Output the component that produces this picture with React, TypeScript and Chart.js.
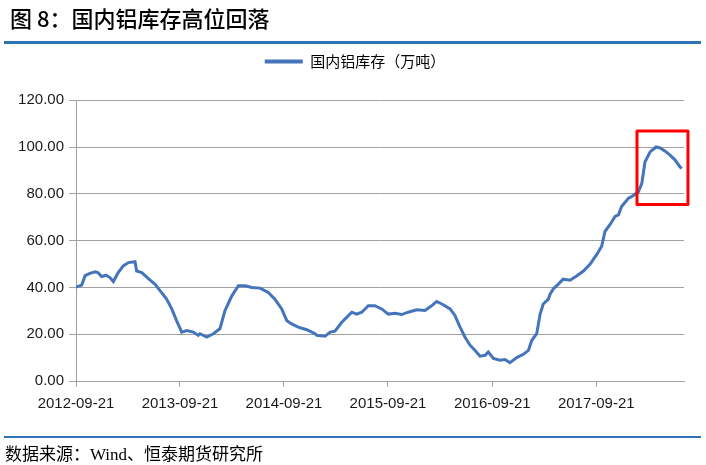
import React, { useEffect, useRef } from 'react';
import { Chart, registerables } from 'chart.js';

Chart.register(...registerables);

const TITLE = '图 8：国内铝库存高位回落';
const SOURCE = '数据来源：Wind、恒泰期货研究所';
const SERIES_NAME = '国内铝库存（万吨）';

// days since 2012-09-21
const dayOffsets = [
  0, 20, 32, 49, 67, 77, 90, 105, 119, 131, 148, 166, 184, 207, 213, 231, 260, 277, 295, 318,
  336, 353, 371, 389, 412, 429, 435, 459, 482, 505, 523, 547, 570, 593, 617, 646, 675, 698, 722, 740,
  757, 780, 810, 839, 845, 874, 892, 909, 933, 950, 968, 985, 1003, 1026, 1049, 1073, 1096, 1120, 1143, 1166,
  1196, 1225, 1249, 1266, 1289, 1313, 1330, 1348, 1365, 1383, 1400, 1418, 1436, 1447, 1465, 1488, 1506, 1523, 1547, 1570,
  1588, 1600, 1617, 1629, 1640, 1658, 1664, 1675, 1693, 1710, 1734, 1757, 1781, 1804, 1828, 1845, 1857, 1874, 1892, 1904,
  1915, 1939, 1950, 1974, 1986, 1997, 2015, 2036, 2050, 2068, 2085, 2103, 2120, 2126,
];

// 国内铝库存（万吨）
const inventory = [
  40.1, 41.0, 45.0, 46.0, 46.7, 46.3, 44.6, 45.2, 44.2, 42.5, 46.3, 49.2, 50.6, 51.0, 47.0, 46.3, 43.1, 41.4, 38.6, 35.0,
  30.8, 25.8, 20.9, 21.6, 20.9, 19.5, 20.2, 18.8, 20.2, 22.3, 30.1, 36.4, 40.7, 40.7, 40.0, 39.7, 37.8, 35.0, 30.8, 25.8,
  24.4, 23.0, 21.9, 20.2, 19.5, 19.1, 20.9, 21.3, 25.1, 27.2, 29.4, 28.6, 29.4, 32.2, 32.2, 30.8, 28.6, 28.9, 28.4, 29.4,
  30.4, 30.1, 32.2, 34.0, 32.6, 30.8, 28.0, 23.0, 18.8, 15.3, 13.1, 10.6, 11.0, 12.4, 9.6, 8.9, 9.2, 7.8, 10.0, 11.4,
  13.1, 17.4, 20.2, 28.6, 32.9, 35.0, 37.1, 39.3, 41.4, 43.5, 43.1, 44.9, 47.0, 49.9, 54.1, 57.6, 64.0, 66.8, 70.3, 71.0,
  74.6, 78.1, 78.8, 80.9, 84.5, 93.6, 97.9, 100.0, 99.6, 98.2, 96.5, 94.4, 91.5, 90.8,
];

const tickDays = [0, 365, 730, 1095, 1461, 1826];
const tickLabels = ['2012-09-21', '2013-09-21', '2014-09-21', '2015-09-21', '2016-09-21', '2017-09-21'];
const X_MAX_DAY = 2134;
const Y_MIN = 0;
const Y_MAX = 120;
const Y_STEP = 20;

// highlighted region (days, value)
const highlightDays = [1969, 2148];
const highlightValues = [75.4, 106.8];

const LINE_COLOR = '#4475BA';
const RULE_COLOR = '#2E73B6';

const highlightPlugin = {
  id: 'highlightBox',
  afterDraw(chart: any) {
    const { ctx, scales } = chart;
    const x = scales.x;
    const y = scales.y;
    const l = x.getPixelForValue(highlightDays[0]);
    const r = x.getPixelForValue(highlightDays[1]);
    const t = y.getPixelForValue(highlightValues[1]);
    const b = y.getPixelForValue(highlightValues[0]);
    ctx.save();
    ctx.strokeStyle = '#FF0000';
    ctx.lineWidth = 3;
    ctx.lineJoin = 'round';
    ctx.strokeRect(l, t, r - l, b - t);
    ctx.restore();
  },
};

const legendShiftPlugin = {
  id: 'legendShift',
  afterLayout(chart: any) {
    const lg = chart.legend;
    if (lg) {
      lg.left += 13;
      lg.right += 13;
    }
  },
};

export default function App() {
  const ref = useRef<HTMLCanvasElement | null>(null);

  useEffect(() => {
    if (!ref.current) return;
    const points = dayOffsets.map((d, i) => ({ x: d, y: inventory[i] }));
    const chart = new Chart(ref.current, {
      type: 'line',
      data: {
        datasets: [
          {
            label: SERIES_NAME,
            data: points,
            borderColor: LINE_COLOR,
            backgroundColor: LINE_COLOR,
            borderWidth: 3,
            pointRadius: 0,
            tension: 0,
          },
        ],
      },
      options: {
        responsive: false,
        animation: false,
        devicePixelRatio: 1,
        layout: { padding: { top: 34, right: 22, bottom: 0, left: 0 } },
        plugins: {
          tooltip: { enabled: false },
          // empty spacer between legend and plot area
          title: {
            display: true,
            text: ' ',
            position: 'top',
            weight: 500,
            font: { size: 1 },
            padding: { top: 10, bottom: 10 },
          },
          legend: {
            display: true,
            position: 'top',
            labels: {
              boxWidth: 38,
              boxHeight: 4,
              padding: 20,
              color: '#222',
              font: { family: '"Noto Sans CJK SC", sans-serif', size: 15 },
              generateLabels: () => [
                {
                  text: SERIES_NAME,
                  fillStyle: LINE_COLOR,
                  strokeStyle: LINE_COLOR,
                  lineWidth: 0,
                  hidden: false,
                  datasetIndex: 0,
                },
              ],
            },
          },
        },
        scales: {
          x: {
            type: 'linear',
            min: 0,
            max: X_MAX_DAY,
            afterBuildTicks: (scale: any) => {
              scale.ticks = tickDays.map((v) => ({ value: v }));
            },
            afterFit: (scale: any) => {
              scale.height = 84;
            },
            ticks: {
              autoSkip: false,
              maxRotation: 0,
              padding: 8,
              color: '#1a1a1a',
              font: { family: '"Liberation Sans", Arial, sans-serif', size: 15 },
              callback: (_v: any, i: number) => tickLabels[i],
            },
            grid: {
              drawOnChartArea: false,
              drawTicks: true,
              tickLength: 6,
              color: '#A0A0A0',
            },
            border: { display: true, color: '#A0A0A0', width: 1 },
          },
          y: {
            min: Y_MIN,
            max: Y_MAX,
            afterFit: (scale: any) => {
              scale.width = 76;
            },
            ticks: {
              stepSize: Y_STEP,
              padding: 5,
              color: '#1a1a1a',
              font: { family: '"Liberation Sans", Arial, sans-serif', size: 15 },
              callback: (v: any) => Number(v).toFixed(2),
            },
            grid: {
              color: '#A0A0A0',
              lineWidth: 1,
              drawTicks: true,
              tickLength: 7,
            },
            border: { display: true, color: '#A0A0A0', width: 1 },
          },
        },
      },
      plugins: [highlightPlugin, legendShiftPlugin],
    });
    return () => chart.destroy();
  }, []);

  return (
    <div
      style={{
        position: 'fixed',
        left: 0,
        top: 0,
        width: 706,
        height: 465,
        background: '#fff',
        overflow: 'hidden',
      }}
    >
      <canvas ref={ref} width={706} height={465} style={{ position: 'absolute', left: 0, top: 0 }} />
      <div
        style={{
          position: 'absolute',
          left: 10,
          top: 2,
          fontFamily: '"Noto Sans CJK SC", sans-serif',
          fontSize: 22,
          fontWeight: 500,
          lineHeight: '30px',
          color: '#000',
          whiteSpace: 'nowrap',
        }}
      >
        {TITLE}
      </div>
      <div style={{ position: 'absolute', left: 4, top: 41, width: 697, height: 3, background: RULE_COLOR }} />
      <div style={{ position: 'absolute', left: 4, top: 436, width: 697, height: 2, background: RULE_COLOR }} />
      <div
        style={{
          position: 'absolute',
          left: 5,
          top: 445,
          fontFamily: '"Liberation Serif", "Noto Sans CJK SC", serif',
          fontSize: 17,
          lineHeight: '20px',
          color: '#000',
          whiteSpace: 'nowrap',
        }}
      >
        {SOURCE}
      </div>
    </div>
  );
}
